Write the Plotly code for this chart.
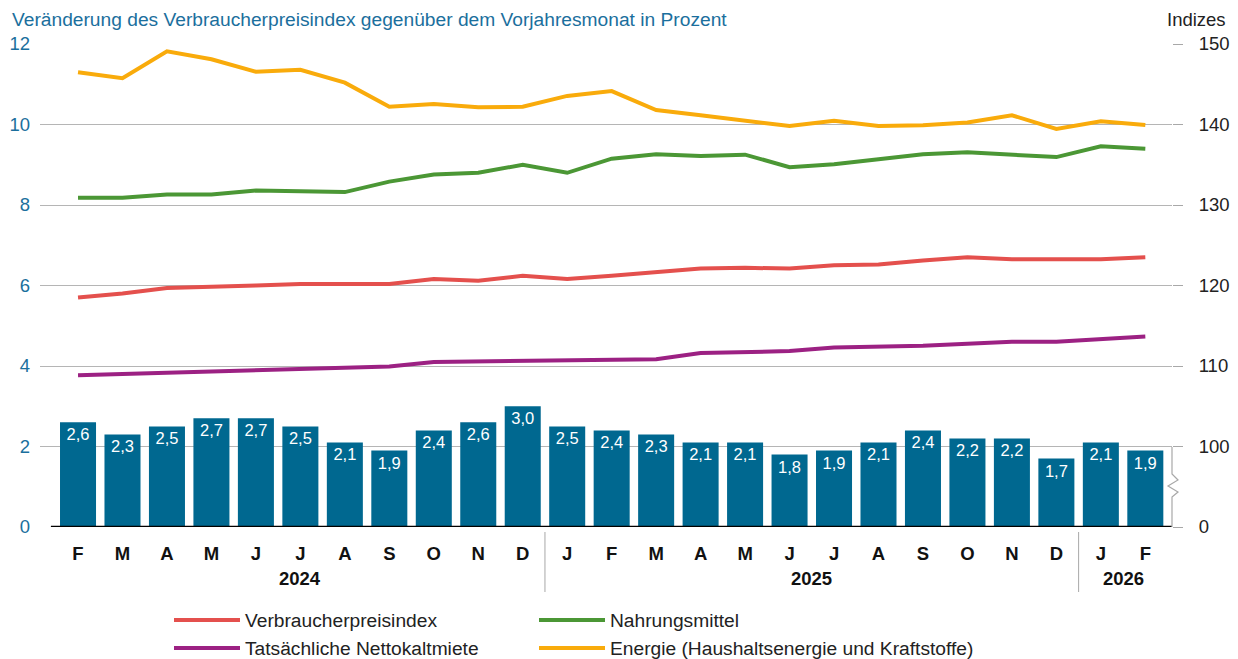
import plotly.graph_objects as go

# ---------------- data ----------------
months = ["F", "M", "A", "M", "J", "J", "A", "S", "O", "N", "D",
          "J", "F", "M", "A", "M", "J", "J", "A", "S", "O", "N", "D",
          "J", "F"]
years = ["2024", "2025", "2026"]
year_first_idx = [0, 11, 23]
year_last_idx = [10, 22, 24]

vpi_change = [2.6, 2.3, 2.5, 2.7, 2.7, 2.5, 2.1, 1.9, 2.4, 2.6, 3.0,
              2.5, 2.4, 2.3, 2.1, 2.1, 1.8, 1.9, 2.1, 2.4, 2.2, 2.2, 1.7,
              2.1, 1.9]

vpi_index = [118.5, 119.0, 119.7, 119.8, 120.0, 120.2, 120.15, 120.2, 120.8, 120.6, 121.2,
             120.8, 121.2, 121.7, 122.1, 122.2, 122.1, 122.5, 122.6, 123.1, 123.5, 123.25, 123.25,
             123.25, 123.5]
food_index = [130.9, 130.9, 131.3, 131.3, 131.8, 131.7, 131.6, 132.9, 133.8, 134.0, 135.0,
              134.0, 135.75, 136.3, 136.1, 136.25, 134.7, 135.05, 135.7, 136.3, 136.55, 136.25, 135.95,
              137.3, 137.0]
rent_index = [108.85, 109.0, 109.2, 109.4, 109.55, 109.7, 109.75, 109.95, 110.5, 110.55, 110.6,
              110.7, 110.8, 110.85, 111.6, 111.75, 111.85, 112.3, 112.35, 112.5, 112.75, 113.0, 113.0,
              113.3, 113.65]
energy_index = [146.5, 145.75, 149.1, 148.1, 146.55, 146.8, 145.2, 142.2, 142.55, 142.15, 142.2,
                143.55, 144.15, 141.8, 141.15, 140.45, 139.8, 140.45, 139.8, 139.9, 140.25, 141.15, 139.45,
                140.4, 139.95]

left_ticks = [0, 2, 4, 6, 8, 10, 12]
right_ticks = [90, 100, 110, 120, 130, 140, 150]
right_ticktext = ["0", "100", "110", "120", "130", "140", "150"]

title_text = "Veränderung des Verbraucherpreisindex gegenüber dem Vorjahresmonat in Prozent"
right_title = "Indizes"

series_names = ["Verbraucherpreisindex", "Nahrungsmittel",
                "Tatsächliche Nettokaltmiete", "Energie (Haushaltsenergie und Kraftstoffe)"]
series_colors = ["#e4504d", "#4b9735", "#9c2183", "#f9ab0b"]

# ---------------- styling ----------------
FONT = "Liberation Sans"
BLUE = "#1b6f9d"
BAR = "#006890"
GRID = "#b5b5b5"
FS = 18.5      # tick labels
FS_T = 19.2    # title / legend texts

# the page body adds an 8px offset; positions below are page (screen) pixels
OFF = 8
W, H = 1238 - OFF, 659 - OFF
PLOT_L, PLOT_R, PLOT_T, PLOT_B = 40, 1172, 44, 527  # screen px
L, R, T, B = PLOT_L - OFF, W - (PLOT_R - OFF), PLOT_T - OFF, H - (PLOT_B - OFF)
PW = PLOT_R - PLOT_L
PH = PLOT_B - PLOT_T


def px2paper_x(px):
    return (px - PLOT_L) / PW


def px2paper_y(py):
    return 1 - (py - PLOT_T) / PH


def cont_x(px):
    return (px - OFF) / W


def cont_y(py):
    return 1 - (py - OFF) / H


x = list(range(len(months)))

fig = go.Figure()

fig.add_trace(go.Bar(
    x=x, y=vpi_change, marker_color=BAR, marker_line_width=0,
    texttemplate="%{y:.1f}", textposition="inside", insidetextanchor="end",
    textangle=0, constraintext="none",
    insidetextfont=dict(color="white", size=16.5, family=FONT),
    showlegend=False, hoverinfo="skip", width=0.81,
))

series = [vpi_index, food_index, rent_index, energy_index]
legend_ids = ["legend", "legend2", "legend", "legend2"]
for name, vals, col, lg in zip(series_names, series, series_colors, legend_ids):
    fig.add_trace(go.Scatter(
        x=x, y=vals, mode="lines", name=name, yaxis="y2",
        line=dict(color=col, width=4), legend=lg,
    ))

# shapes: baseline, separators, axis break
shapes = []
shapes.append(dict(type="line", xref="x", yref="y", x0=-0.61, x1=24.6, y0=0, y1=0,
                   line=dict(color="black", width=2.5), layer="above"))
for sep in [10.5, 22.5]:
    shapes.append(dict(type="line", xref="x", yref="paper", x0=sep, x1=sep,
                       y0=px2paper_y(532), y1=px2paper_y(592), line=dict(color="#a8a8a8", width=1)))

zig = [(1172, 447), (1172, 474), (1178, 480), (1168, 486), (1178, 492), (1172, 497), (1172, 527)]
path = "M " + " L ".join(f"{px2paper_x(a):.5f},{px2paper_y(b):.5f}" for a, b in zig)
shapes.append(dict(type="path", xref="paper", yref="paper", path=path,
                   line=dict(color="#a8a8a8", width=1.2)))

annotations = []
annotations.append(dict(text=title_text, xref="paper", yref="paper",
                        x=px2paper_x(10), y=px2paper_y(19.5), xanchor="left", yanchor="middle",
                        showarrow=False, font=dict(family=FONT, size=FS_T, color=BLUE)))
annotations.append(dict(text=right_title, xref="paper", yref="paper",
                        x=px2paper_x(1228), y=px2paper_y(19), xanchor="right", yanchor="middle",
                        showarrow=False, font=dict(family=FONT, size=FS, color="#222222")))
for yr, a, b in zip(years, year_first_idx, year_last_idx):
    annotations.append(dict(text=f"<b>{yr}</b>", xref="x", yref="paper",
                            x=(a + b) / 2, y=px2paper_y(578), yanchor="middle",
                            showarrow=False, font=dict(family=FONT, size=FS, color="#111111")))

fig.update_layout(
    width=W, height=H,
    margin=dict(l=L, r=R, t=T, b=B, pad=0, autoexpand=False),
    paper_bgcolor="white", plot_bgcolor="white",
    separators=",.",
    font=dict(family=FONT, size=FS, color="#222222"),
    bargap=0.19,
    xaxis=dict(range=[-0.855, 24.6], tickvals=x, ticktext=[f"<b>{m}</b>" for m in months],
               showgrid=False, zeroline=False, showline=False, ticks="", automargin=False,
               ticklabelstandoff=13,
               tickfont=dict(family=FONT, size=FS, color="#111111")),
    yaxis=dict(range=[0, 12], tickvals=left_ticks, showgrid=True, gridcolor=GRID, gridwidth=1,
               zeroline=False, showline=False, ticks="", ticklabelstandoff=9, automargin=False,
               tickfont=dict(family=FONT, size=FS, color=BLUE)),
    yaxis2=dict(range=[90, 150], overlaying="y", side="right", tickvals=right_ticks,
                ticktext=right_ticktext, showgrid=False, zeroline=False, showline=False,
                ticks="outside", ticklen=10, tickcolor="#a8a8a8", tickwidth=1,
                ticklabelstandoff=12, automargin=False,
                tickfont=dict(family=FONT, size=FS, color="#222222")),
    legend=dict(xref="container", yref="container", x=cont_x(169), y=cont_y(601),
                xanchor="left", yanchor="top",
                orientation="v", font=dict(family=FONT, size=FS_T, color="#222222"),
                itemwidth=66, tracegroupgap=0, bgcolor="rgba(0,0,0,0)"),
    legend2=dict(xref="container", yref="container", x=cont_x(534), y=cont_y(601),
                 xanchor="left", yanchor="top",
                 orientation="v", font=dict(family=FONT, size=FS_T, color="#222222"),
                 itemwidth=66, tracegroupgap=0, bgcolor="rgba(0,0,0,0)"),
    shapes=shapes,
    annotations=annotations,
)

fig.write_html("out.html")
